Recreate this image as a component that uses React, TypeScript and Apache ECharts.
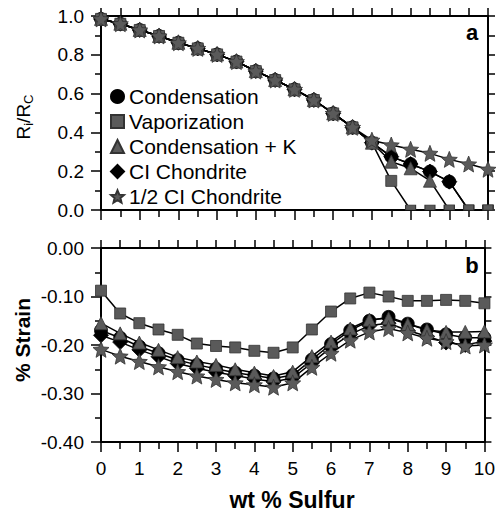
import React, { useEffect, useRef } from 'react';
import * as echarts from 'echarts';

// wt % sulfur (x values shared by all series)
const sulfur = [0, 0.5, 1, 1.5, 2, 2.5, 3, 3.5, 4, 4.5, 5, 5.5, 6, 6.5, 7, 7.5, 8, 8.5, 9, 9.5, 10];

// Panel a: Ri/Rc
const radiusCondensation = [0.985, 0.96, 0.928, 0.897, 0.862, 0.833, 0.802, 0.765, 0.716, 0.67, 0.622, 0.567, 0.498, 0.426, 0.347, 0.275, 0.237, 0.198, 0.146, 0, 0];
const radiusVaporization = [0.985, 0.96, 0.928, 0.897, 0.862, 0.833, 0.802, 0.765, 0.716, 0.67, 0.622, 0.567, 0.498, 0.426, 0.347, 0.15, 0, 0, 0, 0, 0];
const radiusCondensationK = [0.985, 0.96, 0.928, 0.897, 0.862, 0.833, 0.802, 0.765, 0.716, 0.67, 0.622, 0.567, 0.498, 0.426, 0.347, 0.249, 0.215, 0.151, 0, 0, 0];
const radiusCI = [0.985, 0.96, 0.928, 0.897, 0.862, 0.833, 0.802, 0.765, 0.716, 0.67, 0.622, 0.567, 0.498, 0.426, 0.347, 0.275, 0.237, 0.198, 0.146, 0, 0];
const radiusHalfCI = [0.985, 0.96, 0.928, 0.897, 0.862, 0.833, 0.802, 0.765, 0.716, 0.67, 0.622, 0.567, 0.498, 0.426, 0.36, 0.335, 0.313, 0.292, 0.261, 0.237, 0.21];

// Panel b: % strain
const strainCondensation = [-0.170, -0.185, -0.203, -0.217, -0.231, -0.241, -0.249, -0.257, -0.263, -0.269, -0.262, -0.230, -0.198, -0.170, -0.150, -0.142, -0.156, -0.168, -0.178, -0.185, -0.185];
const strainVaporization = [-0.088, -0.135, -0.155, -0.168, -0.179, -0.197, -0.202, -0.205, -0.212, -0.216, -0.205, -0.168, -0.131, -0.104, -0.092, -0.100, -0.109, -0.109, -0.107, -0.109, -0.114];
const strainCondensationK = [-0.155, -0.176, -0.195, -0.210, -0.225, -0.234, -0.241, -0.250, -0.257, -0.264, -0.255, -0.223, -0.193, -0.166, -0.148, -0.145, -0.157, -0.169, -0.173, -0.173, -0.172];
const strainCI = [-0.180, -0.194, -0.210, -0.224, -0.238, -0.248, -0.256, -0.263, -0.270, -0.276, -0.268, -0.237, -0.205, -0.178, -0.160, -0.155, -0.170, -0.182, -0.195, -0.200, -0.192];
const strainHalfCI = [-0.209, -0.223, -0.234, -0.245, -0.255, -0.264, -0.271, -0.278, -0.282, -0.287, -0.278, -0.246, -0.217, -0.190, -0.173, -0.166, -0.175, -0.186, -0.193, -0.202, -0.200];

const seriesNames = ['Condensation', 'Vaporization', 'Condensation + K', 'CI Chondrite', '1/2 CI Chondrite'];
const xTicks = [0, 1, 2, 3, 4, 5, 6, 7, 8, 9, 10];

const FONT = '"Liberation Sans", Arial, Helvetica, sans-serif';
const GRAY = '#5a5a5a';
const STAR = 'path://M0,-1L0.265,-0.364L0.951,-0.309L0.428,0.139L0.588,0.809L0,0.45L-0.588,0.809L-0.428,0.139L-0.951,-0.309L-0.265,-0.364Z';

const styles: Record<string, any> = {
  'Condensation': { symbol: 'circle', size: 13, color: '#000', border: '#000' },
  'Vaporization': { symbol: 'rect', size: 11, color: GRAY, border: '#333' },
  'Condensation + K': { symbol: 'triangle', size: 13, color: GRAY, border: '#333' },
  'CI Chondrite': { symbol: 'diamond', size: 15, color: '#000', border: '#000' },
  '1/2 CI Chondrite': { symbol: STAR, size: 16, color: GRAY, border: '#333' },
};

function makeSeries(name: string, values: number[], panel: number) {
  const st = styles[name];
  const data = values.map((v, i) => {
    if (panel === 0 && v === 0) {
      // marker sitting on the axis: only its upper half shows
      return {
        value: [sulfur[i], v],
        symbol: 'rect',
        symbolSize: [10, 5],
        symbolOffset: [0, -2.5],
        itemStyle: { color: GRAY, borderColor: '#333', borderWidth: 0.8 },
      };
    }
    return [sulfur[i], v];
  });
  return {
    type: 'line',
    name,
    xAxisIndex: panel === 0 ? 0 : 2,
    yAxisIndex: panel === 0 ? 0 : 2,
    data,
    symbol: st.symbol,
    symbolSize: st.size,
    showAllSymbol: true,
    clip: false,
    lineStyle: { color: '#000', width: 1.5 },
    itemStyle: { color: st.color, borderColor: st.border, borderWidth: 0.8 },
    emphasis: { disabled: true },
    z: 3,
  };
}

const axisLine = { show: true, onZero: false, lineStyle: { color: '#000', width: 2 } };
const tickStyle = { color: '#000', width: 1.5 };

function xAxis(gridIndex: number, position: string, showLabel: boolean, interval: number, tickLen: number, minor: boolean) {
  return {
    type: 'value', gridIndex, position, min: 0, max: 10, interval,
    axisLine,
    axisTick: { show: true, inside: false, length: tickLen, lineStyle: tickStyle },
    minorTick: { show: minor, splitNumber: 2, length: 7, lineStyle: tickStyle },
    axisLabel: {
      show: showLabel, margin: 17, color: '#000', fontSize: 19, fontFamily: FONT,
      formatter: (v: number) => (xTicks.includes(v) ? String(v) : ''),
    },
    splitLine: { show: false },
  };
}

function yAxis(gridIndex: number, position: string, min: number, max: number, interval: number, showLabel: boolean, digits: number, tickLen: number, minor: boolean) {
  return {
    type: 'value', gridIndex, position, min, max, interval,
    axisLine,
    axisTick: { show: true, inside: false, length: tickLen, lineStyle: tickStyle },
    minorTick: { show: minor, splitNumber: 2, length: 6, lineStyle: tickStyle },
    axisLabel: {
      show: showLabel, margin: 17, color: '#000', fontSize: 19, fontFamily: FONT,
      formatter: (v: number) => v.toFixed(digits),
    },
    splitLine: { show: false },
  };
}

export default function App() {
  const ref = useRef<HTMLDivElement>(null);
  useEffect(() => {
    if (!ref.current) return;
    const chart = echarts.init(ref.current, undefined, { renderer: 'svg' });
    const option = {
      animation: false,
      backgroundColor: '#fff',
      grid: [
        { left: 101, top: 16, width: 387, height: 194 },
        { left: 101, top: 248, width: 387, height: 194 },
      ],
      xAxis: [
        xAxis(0, 'bottom', false, 1, 10, true),
        xAxis(0, 'top', false, 0.5, 8, false),
        xAxis(1, 'bottom', true, 1, 10, true),
        xAxis(1, 'top', false, 0.5, 8, false),
      ],
      yAxis: [
        yAxis(0, 'left', 0, 1, 0.2, true, 1, 10, true),
        yAxis(0, 'right', 0, 1, 0.1, false, 1, 7, false),
        yAxis(1, 'left', -0.4, 0, 0.1, true, 2, 10, true),
        yAxis(1, 'right', -0.4, 0, 0.05, false, 2, 7, false),
      ],
      legend: {
        orient: 'vertical',
        left: 110,
        top: 86,
        padding: 0,
        itemWidth: 13,
        itemHeight: 13,
        itemGap: 4,
        selectedMode: false,
        textStyle: { fontSize: 21, color: '#000', fontFamily: FONT },
        data: seriesNames.map((n) => ({ name: n, icon: styles[n].symbol })),
      },
      series: [
        makeSeries('Condensation', radiusCondensation, 0),
        makeSeries('CI Chondrite', radiusCI, 0),
        makeSeries('Vaporization', radiusVaporization, 0),
        makeSeries('Condensation + K', radiusCondensationK, 0),
        makeSeries('1/2 CI Chondrite', radiusHalfCI, 0),
        makeSeries('Condensation', strainCondensation, 1),
        makeSeries('CI Chondrite', strainCI, 1),
        makeSeries('Vaporization', strainVaporization, 1),
        makeSeries('Condensation + K', strainCondensationK, 1),
        makeSeries('1/2 CI Chondrite', strainHalfCI, 1),
      ],
      graphic: [
        {
          type: 'text', x: 23, y: 117, rotation: Math.PI / 2,
          style: {
            text: '{r|R}{s|i}{r|/R}{s|C}',
            rich: {
              r: { fontSize: 19, fontFamily: FONT, lineHeight: 24, fill: '#000' },
              s: { fontSize: 13, fontFamily: FONT, lineHeight: 13, verticalAlign: 'bottom', fill: '#000' },
            },
            align: 'center', verticalAlign: 'middle', fill: '#000',
          },
        },
        {
          type: 'text', x: 22, y: 340, rotation: Math.PI / 2,
          style: { text: '% Strain', font: `bold 21px ${FONT}`, align: 'center', verticalAlign: 'middle', fill: '#000' },
        },
        {
          type: 'text', x: 292, y: 500,
          style: { text: 'wt % Sulfur', font: `bold 23px ${FONT}`, align: 'center', verticalAlign: 'middle', fill: '#000' },
        },
        {
          type: 'text', x: 472, y: 32,
          style: { text: 'a', font: `bold 22px ${FONT}`, align: 'center', verticalAlign: 'middle', fill: '#000' },
        },
        {
          type: 'text', x: 472, y: 265,
          style: { text: 'b', font: `bold 22px ${FONT}`, align: 'center', verticalAlign: 'middle', fill: '#000' },
        },
      ],
    };
    chart.setOption(option as any);
    return () => chart.dispose();
  }, []);
  return <div ref={ref} style={{ position: 'absolute', left: 0, top: 0, width: 498, height: 515 }} />;
}
